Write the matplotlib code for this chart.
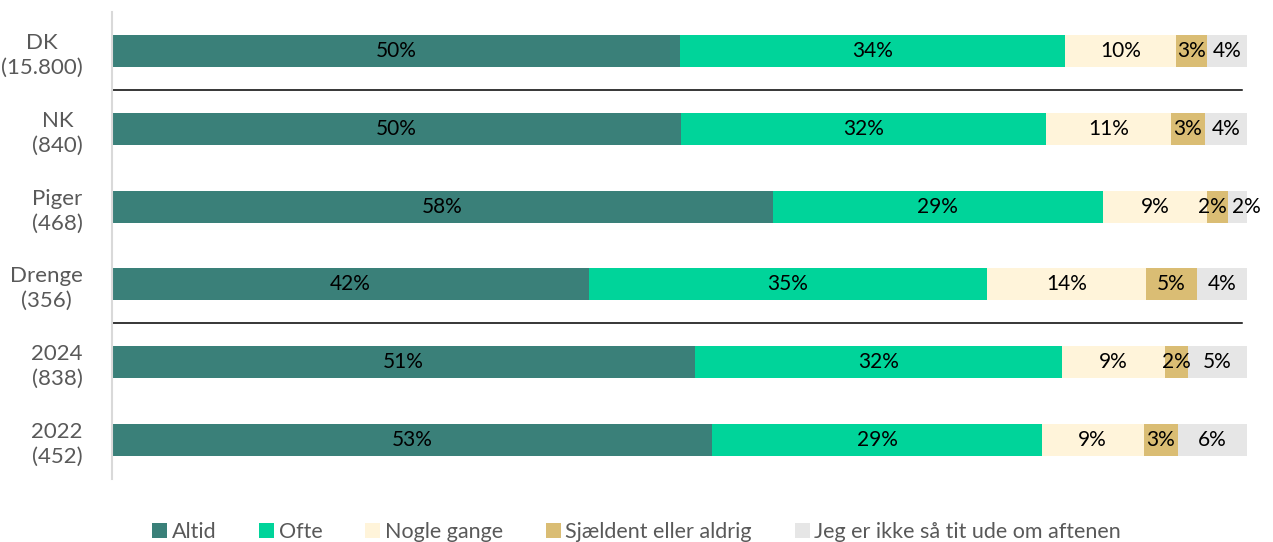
import numpy as np
import matplotlib.pyplot as plt

plt.rcParams['font.family'] = ['Lato', 'DejaVu Sans']

groups = ['DK\n(15.800)', 'NK\n(840)', 'Piger\n(468)', 'Drenge\n(356)', '2024\n(838)', '2022\n(452)']
series = ['Altid', 'Ofte', 'Nogle gange', 'Sjældent eller aldrig', 'Jeg er ikke så tit ude om aftenen']
altid = [50.0, 50.1, 58.2, 42.0, 51.4, 52.9]
ofte = [34.0, 32.2, 29.1, 35.1, 32.3, 29.0]
nogle = [9.7, 11.0, 9.2, 14.0, 9.1, 9.0]
sjaeldent = [2.8, 3.0, 1.8, 4.5, 2.0, 3.0]
ikke_ude = [3.5, 3.7, 1.7, 4.4, 5.2, 6.1]
labels = [
    ['50%', '50%', '58%', '42%', '51%', '53%'],
    ['34%', '32%', '29%', '35%', '32%', '29%'],
    ['10%', '11%', '9%', '14%', '9%', '9%'],
    ['3%', '3%', '2%', '5%', '2%', '3%'],
    ['4%', '4%', '2%', '4%', '5%', '6%'],
]
colors = ['#3A8079', '#00D49A', '#FFF4DA', '#DABD74', '#E6E6E6']

values = [altid, ofte, nogle, sjaeldent, ikke_ude]

fig = plt.figure(figsize=(12.73, 5.42), dpi=100)
ax = fig.add_axes([0.088, 0.116, 0.8916, 0.862])

y = np.arange(len(groups))
left = np.zeros(len(groups))
for k, (vals, name, col, labs) in enumerate(zip(values, series, colors, labels)):
    vals = np.array(vals)
    ax.barh(y, vals, left=left, height=0.41, color=col, label=name)
    for yi, (l, v, t) in enumerate(zip(left, vals, labs)):
        x, ha = l + v / 2, 'center'
        if v < 1.9:
            # narrow segments: keep the two small labels apart
            x, ha = (l + 0.4, 'left') if k == len(values) - 1 else (l + v - 0.1, 'right')
        ax.text(x, yi, t, ha=ha, va='center', fontsize=15, color='black')
    left = left + vals

# separators between groups
for sep in [0.5, 3.5]:
    ax.plot([0, 99.6], [sep, sep], color='black', lw=1.1)

ax.set_xlim(0, 100)
ax.set_ylim(5.5, -0.5)
ax.set_yticks(y)
ax.set_yticklabels(groups, fontsize=16, color='#595959', linespacing=1.3)
ax.tick_params(axis='y', length=0, pad=21)
ax.set_xticks([])
for s in ['top', 'right', 'bottom']:
    ax.spines[s].set_visible(False)
ax.spines['left'].set_color('#D9D9D9')
ax.spines['left'].set_linewidth(1.5)
for t in ax.get_yticklabels():
    t.set_horizontalalignment('right')
    t.set_multialignment('center')

fig.legend(loc='lower center', bbox_to_anchor=(0.5, -0.035), ncol=5, frameon=False,
           fontsize=15.5, handlelength=0.7, handleheight=0.7, handletextpad=0.2,
           columnspacing=2.0, labelcolor='#595959')

fig.savefig('out.png', dpi=100)
